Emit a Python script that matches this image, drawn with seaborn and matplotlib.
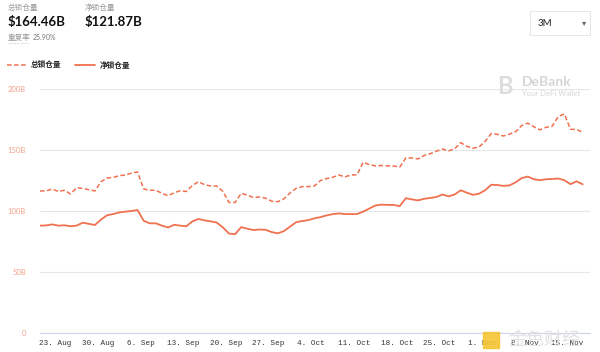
import numpy as np
import pandas as pd
import seaborn as sns
import matplotlib.pyplot as plt
import matplotlib.dates as mdates
from matplotlib.lines import Line2D
from matplotlib.patches import FancyBboxPatch, Rectangle

# daily values, billions USD
total_locked = [116.4, 116.5, 118, 116, 117, 114, 119, 118.5, 117.5, 116.4,
                124, 127, 127.5, 129, 129.5, 131, 132, 118, 117, 117,
                114.5, 112.5, 115, 116.6, 116, 121, 124, 121.5, 120.5, 120.5,
                116, 107, 107, 114.5, 113, 111, 111.5, 110.5, 108, 107.6,
                110, 114.7, 118.5, 120, 120, 120.5, 125, 126.5, 127.6, 129.5,
                128, 129.5, 129.7, 140, 138, 137, 137.3, 137, 136.9, 136,
                143.5, 143.5, 142.7, 145.5, 147, 149, 150.8, 149.3, 151, 156,
                153, 151.5, 152.5, 157, 163.5, 162.8, 161.5, 163, 165, 170,
                172, 169, 166.5, 168.6, 169.5, 177.5, 179.5, 167, 166.8, 164.46]
net_locked = [88, 88.2, 89, 88, 88.3, 87.5, 88, 90.4, 89.5, 88.5,
              93, 96.5, 97.5, 98.8, 99.5, 100, 100.8, 92, 89.9, 89.9,
              88, 86.5, 88.7, 88, 87.5, 91.5, 93.5, 92.3, 91.5, 90.5,
              86.5, 81.5, 81, 86.8, 85.5, 84.4, 84.8, 84.6, 82.7, 81.7,
              83.5, 87.2, 90.8, 91.8, 92.5, 94, 95, 96.4, 97.4, 98,
              97.5, 97.5, 97.5, 99.5, 102, 104.5, 105.2, 105, 105, 104,
              110.5, 109.5, 108.7, 110, 110.7, 111.5, 113.5, 112, 113.5, 117,
              115, 113.3, 114.2, 117, 121.5, 121.3, 120.6, 121, 123.5, 127,
              128.2, 126, 125.3, 126, 126.3, 126.6, 125.2, 122, 124.3, 121.87]
dates = pd.date_range("2021-08-20 12:00", periods=len(total_locked), freq="D")
y_ticks = [0, 50, 100, 150, 200]
y_labels = ["0", "50B", "100B", "150B", "200B"]

line_color = "#F0714F"

sns.set_style("white")
plt.rcParams["font.family"] = ["Lato", "Noto Sans CJK SC", "DejaVu Sans"]
cjk = ["Noto Sans CJK SC", "DejaVu Sans"]

fig = plt.figure(figsize=(6, 3.52), dpi=100)
ax = fig.add_axes([40 / 600, 19 / 352, 550 / 600, 244 / 352])

df = pd.DataFrame({"date": dates, "total": total_locked, "net": net_locked})
sns.lineplot(data=df, x="date", y="total", ax=ax, color=line_color,
             linewidth=1.1, dashes=False, linestyle=(0, (3, 1.6)))
sns.lineplot(data=df, x="date", y="net", ax=ax, color=line_color, linewidth=1.3)

ax.set_xlim(dates[0], dates[0] + pd.Timedelta(days=90.2))
ax.set_ylim(0, 200)
ax.set_yticks(y_ticks)
ax.set_yticklabels(y_labels, color="#F2A28C", fontsize=5.5)
ax.tick_params(axis="y", length=0, pad=10)
ax.grid(axis="y", color="#E6E6EC", linewidth=0.8)
ax.set_axisbelow(True)

ax.xaxis.set_major_locator(mdates.WeekdayLocator(byweekday=mdates.MO))
ax.xaxis.set_major_formatter(mdates.DateFormatter("%-d. %b"))
for lab in ax.get_xticklabels():
    lab.set_fontfamily("Liberation Mono")
ax.tick_params(axis="x", labelsize=5.5, labelcolor="#333333", length=4,
               color="#CCD6EB", width=0.8, pad=1)
for s in ["top", "right", "left"]:
    ax.spines[s].set_visible(False)
ax.spines["bottom"].set_color("#CCD6EB")
ax.spines["bottom"].set_linewidth(0.8)
ax.set_xlabel("")
ax.set_ylabel("")

# DeBank watermark
fig.text(497 / 600, 1 - 86 / 352, "B", fontsize=17, fontweight="bold",
         color="#DDDDDD", va="center", ha="left")
fig.text(522 / 600, 1 - 82 / 352, "DeBank", fontsize=10, fontweight="bold",
         color="#D6D6D6", va="center", ha="left")
fig.text(522 / 600, 1 - 94 / 352, "Your DeFi Wallet", fontsize=5.5,
         color="#D6D6D6", va="center", ha="left")

# jinse watermark
fig.patches.append(Rectangle((483 / 600, 1 - 348 / 352), 16 / 600, 16 / 352,
                             transform=fig.transFigure, color="#F5C531", alpha=0.9))
fig.text(508 / 600, 1 - 340 / 352, "金色财经", fontsize=13, color="#E2E2E2",
         family=cjk, va="center", ha="left")

# header
fig.text(8 / 600, 1 - 8 / 352, "总锁仓量", fontsize=5.5, color="#999999",
         family=cjk, va="center")
fig.text(8 / 600, 1 - 22 / 352, "$164.46B", fontsize=9.5, fontweight="bold",
         color="#111111", va="center")
fig.text(85 / 600, 1 - 8 / 352, "净锁仓量", fontsize=5.5, color="#999999",
         family=cjk, va="center")
fig.text(85 / 600, 1 - 22 / 352, "$121.87B", fontsize=9.5, fontweight="bold",
         color="#111111", va="center")
fig.text(8 / 600, 1 - 38 / 352, "重复率", fontsize=5.5, color="#999999",
         family=cjk, va="center")
fig.lines.append(Line2D([8 / 600, 29 / 600], [1 - 43 / 352] * 2,
                        transform=fig.transFigure, color="#BBBBBB",
                        linewidth=0.5, linestyle=(0, (1, 1))))
fig.text(33 / 600, 1 - 38 / 352, "25.90%", fontsize=5, color="#777777",
         va="center")

# dropdown
fig.patches.append(FancyBboxPatch((530 / 600, 1 - 35 / 352), 60 / 600, 24 / 352,
                                  boxstyle="square,pad=0", transform=fig.transFigure,
                                  facecolor="white", edgecolor="#E3E3E3",
                                  linewidth=0.6))
fig.text(538 / 600, 1 - 23 / 352, "3M", fontsize=7, color="#222222", va="center")
fig.text(584 / 600, 1 - 23 / 352, "▾", fontsize=6, color="#666666", va="center",
         ha="center", family=["DejaVu Sans"])

# legend
fig.lines.append(Line2D([7 / 600, 26 / 600], [1 - 65 / 352] * 2,
                        transform=fig.transFigure, color=line_color,
                        linewidth=1.1, linestyle=(0, (3, 1.6))))
fig.text(31 / 600, 1 - 65 / 352, "总锁仓量", fontsize=5.5, fontweight="bold",
         color="#222222", family=cjk, va="center")
fig.lines.append(Line2D([75 / 600, 95 / 600], [1 - 65 / 352] * 2,
                        transform=fig.transFigure, color=line_color, linewidth=1.3))
fig.text(100 / 600, 1 - 65 / 352, "净锁仓量", fontsize=5.5, fontweight="bold",
         color="#222222", family=cjk, va="center")

fig.savefig("out.png", dpi=100)
